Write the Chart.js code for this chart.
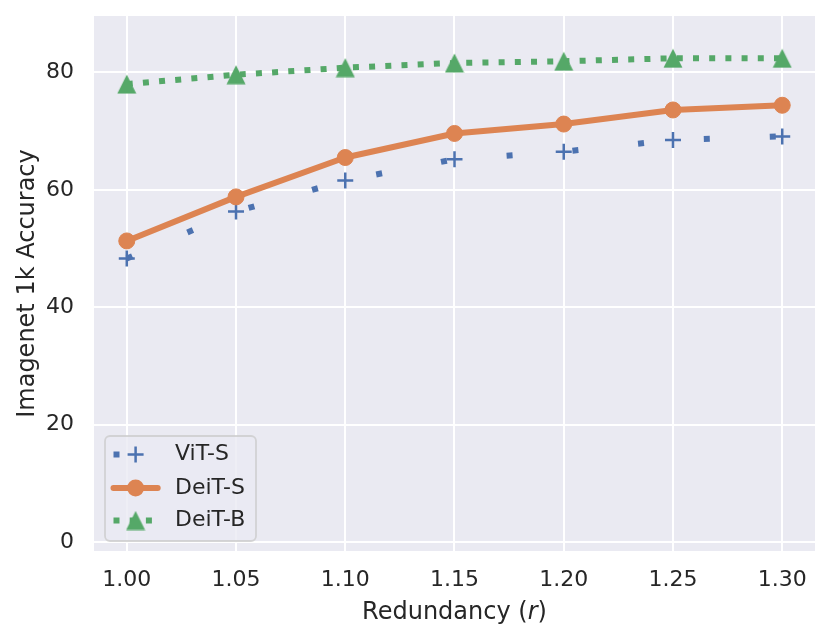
<!DOCTYPE html>
<html>
<head>
<meta charset="utf-8">
<script src="https://cdn.jsdelivr.net/npm/chart.js@4.4.1/dist/chart.umd.min.js"></script>
<style>
  html, body { margin: 0; padding: 0; background: #ffffff; }
  #wrap { width: 830px; height: 642px; }
</style>
</head>
<body>
<div id="wrap"><canvas id="redundancyChart" width="830" height="642"></canvas></div>
<script>
// ---- data ----
const redundancy = [1.00, 1.05, 1.10, 1.15, 1.20, 1.25, 1.30];
const vitS = [48.3, 56.3, 61.6, 65.2, 66.5, 68.5, 69.1];
const deitS = [51.3, 58.8, 65.5, 69.6, 71.2, 73.6, 74.4];
const deitB = [78.0, 79.6, 80.8, 81.6, 81.9, 82.4, 82.4];

const seriesNames = ["ViT-S", "DeiT-S", "DeiT-B"];
const xTickLabels = ["1.00", "1.05", "1.10", "1.15", "1.20", "1.25", "1.30"];
const yTicks = [0, 20, 40, 60, 80];

// seaborn "deep"
const BLUE = "#4C72B0";
const ORANGE = "#DD8452";
const GREEN = "#55A868";
const TEXT = "#262626";
const FACE = "#EAEAF2";
const FONT = "'DejaVu Sans', sans-serif";

// matplotlib-style "^" marker: square bbox centred on the point
const makeTriangle = (size) => {
  const c = document.createElement("canvas");
  c.width = size;
  c.height = size;
  const g = c.getContext("2d");
  g.fillStyle = GREEN;
  g.beginPath();
  g.moveTo(size / 2, 0.5);
  g.lineTo(size - 0.5, size - 0.5);
  g.lineTo(0.5, size - 0.5);
  g.closePath();
  g.fill();
  return c;
};
const triangle = makeTriangle(20);

const toPoints = (ys) => redundancy.map((x, i) => ({ x, y: ys[i] }));

const areaBackground = {
  id: "areaBackground",
  beforeDraw(chart) {
    const { ctx, chartArea: a } = chart;
    ctx.save();
    ctx.fillStyle = FACE;
    ctx.fillRect(a.left, a.top, a.right - a.left, a.bottom - a.top);
    ctx.restore();
  },
};

const xTitle = {
  id: "xTitle",
  afterDraw(chart) {
    const { ctx, chartArea: a } = chart;
    const cx = (a.left + a.right) / 2;
    const parts = [
      ["Redundancy (", "normal"],
      ["r", "italic"],
      [")", "normal"],
    ];
    ctx.save();
    ctx.fillStyle = TEXT;
    ctx.textBaseline = "alphabetic";
    ctx.textAlign = "left";
    const widths = parts.map(([t, s]) => {
      ctx.font = `${s} 24px ${FONT}`;
      return ctx.measureText(t).width;
    });
    let x = cx - widths.reduce((p, w) => p + w, 0) / 2;
    parts.forEach(([t, s], i) => {
      ctx.font = `${s} 24px ${FONT}`;
      ctx.fillText(t, x, 619);
      x += widths[i];
    });
    ctx.restore();
  },
};

const boxLegend = {
  id: "boxLegend",
  afterDraw(chart) {
    const { ctx } = chart;
    const box = { x: 105, y: 436, w: 151, h: 105, r: 5 };
    ctx.save();
    ctx.beginPath();
    ctx.roundRect(box.x, box.y, box.w, box.h, box.r);
    ctx.fillStyle = "rgba(234, 234, 242, 0.8)";
    ctx.fill();
    ctx.lineWidth = 1.8;
    ctx.strokeStyle = "rgba(204, 204, 204, 0.8)";
    ctx.stroke();

    const x1 = 113.5, x2 = 157.7, mx = 135.6;
    const rows = [454.5, 488, 520.5];

    // ViT-S
    ctx.lineWidth = 6;
    ctx.strokeStyle = BLUE;
    ctx.setLineDash([6, 60]);
    ctx.beginPath(); ctx.moveTo(x1, rows[0]); ctx.lineTo(x2, rows[0]); ctx.stroke();
    ctx.setLineDash([]);
    ctx.lineWidth = 2.5;
    ctx.beginPath();
    ctx.moveTo(mx - 8, rows[0]); ctx.lineTo(mx + 8, rows[0]);
    ctx.moveTo(mx, rows[0] - 8); ctx.lineTo(mx, rows[0] + 8);
    ctx.stroke();

    // DeiT-S
    ctx.lineWidth = 6;
    ctx.lineCap = "round";
    ctx.strokeStyle = ORANGE;
    ctx.beginPath(); ctx.moveTo(x1, rows[1]); ctx.lineTo(x2, rows[1]); ctx.stroke();
    ctx.lineCap = "butt";
    ctx.fillStyle = ORANGE;
    ctx.beginPath(); ctx.arc(mx, rows[1], 8.5, 0, Math.PI * 2); ctx.fill();

    // DeiT-B
    ctx.strokeStyle = GREEN;
    ctx.setLineDash([6, 10.2]);
    ctx.beginPath(); ctx.moveTo(x1, rows[2]); ctx.lineTo(x2 + 2, rows[2]); ctx.stroke();
    ctx.setLineDash([]);
    ctx.drawImage(triangle, mx - triangle.width / 2, rows[2] - triangle.height / 2);

    ctx.fillStyle = TEXT;
    ctx.font = `22px ${FONT}`;
    ctx.textBaseline = "middle";
    ctx.textAlign = "left";
    seriesNames.forEach((name, i) => ctx.fillText(name, 175, rows[i]));
    ctx.restore();
  },
};

new Chart(document.getElementById("redundancyChart").getContext("2d"), {
  type: "line",
  data: {
    datasets: [
      {
        label: seriesNames[0],
        data: toPoints(vitS),
        order: 3,
        borderColor: BLUE,
        borderWidth: 6,
        borderDash: [6, 60],
        pointStyle: "cross",
        pointRadius: 8,
        pointBorderWidth: 2.5,
        pointBorderColor: BLUE,
        pointBackgroundColor: BLUE,
        tension: 0,
      },
      {
        label: seriesNames[1],
        data: toPoints(deitS),
        order: 2,
        borderColor: ORANGE,
        borderWidth: 6,
        borderCapStyle: "round",
        borderJoinStyle: "round",
        pointStyle: "circle",
        pointRadius: 8,
        pointBorderWidth: 1,
        pointBorderColor: ORANGE,
        pointBackgroundColor: ORANGE,
        tension: 0,
      },
      {
        label: seriesNames[2],
        data: toPoints(deitB),
        order: 1,
        borderColor: GREEN,
        borderWidth: 6,
        borderDash: [6, 10.2],
        pointStyle: triangle,
        pointRadius: 10,
        pointBorderWidth: 0,
        pointBackgroundColor: GREEN,
        tension: 0,
      },
    ],
  },
  options: {
    responsive: false,
    animation: false,
    events: [],
    layout: { padding: { top: 16, right: 15, left: 0, bottom: 0 } },
    plugins: {
      legend: { display: false },
      tooltip: { enabled: false },
    },
    scales: {
      x: {
        type: "linear",
        min: 0.985,
        max: 1.315,
        afterBuildTicks: (scale) => {
          scale.ticks = redundancy.map((v) => ({ value: v }));
        },
        afterFit: (scale) => {
          scale.height = 91;
          scale.paddingLeft = 0;
          scale.paddingRight = 0;
        },
        grid: { color: "#ffffff", lineWidth: 2, drawTicks: false },
        border: { display: false },
        ticks: {
          padding: 16.5,
          color: TEXT,
          font: { family: FONT, size: 22 },
          maxRotation: 0,
          callback: (v, i) => xTickLabels[i],
        },
      },
      y: {
        type: "linear",
        min: -1.5,
        max: 89.6,
        afterBuildTicks: (scale) => {
          scale.ticks = yTicks.map((v) => ({ value: v }));
        },
        afterFit: (scale) => {
          scale.width = 94;
          scale.paddingTop = 0;
          scale.paddingBottom = 0;
        },
        grid: { color: "#ffffff", lineWidth: 2, drawTicks: false },
        border: { display: false },
        ticks: {
          padding: 20,
          color: TEXT,
          font: { family: FONT, size: 22 },
          callback: (v) => String(v),
        },
        title: {
          display: true,
          text: "Imagenet 1k Accuracy",
          color: TEXT,
          font: { family: FONT, size: 24 },
          padding: { top: 13, bottom: 0 },
        },
      },
    },
  },
  plugins: [areaBackground, xTitle, boxLegend],
});
</script>
</body>
</html>
